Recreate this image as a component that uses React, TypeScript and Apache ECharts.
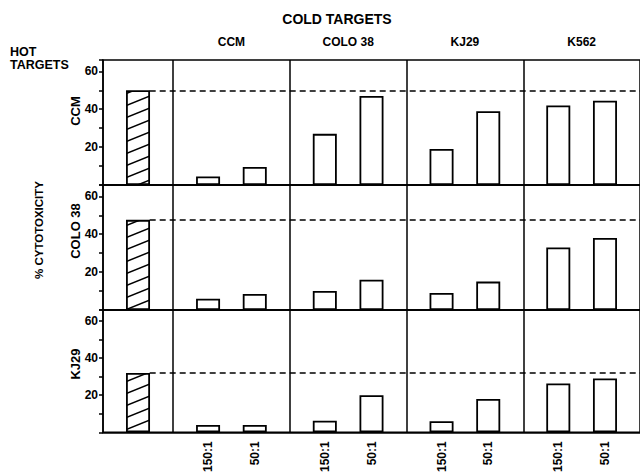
import React, { useEffect, useRef } from 'react';
import * as echarts from 'echarts';

// ---- data ----
const hotTargets = ['CCM', 'COLO 38', 'KJ29'];
const coldTargets = ['CCM', 'COLO 38', 'KJ29', 'K562'];
const ratios = ['150:1', '50:1'];
const hotValues = [50, 47.6, 32];
const ccmAt150 = [4.5, 27, 19, 42];
const ccmAt50 = [9.5, 47, 39, 44.5];
const colo38At150 = [6, 10, 9, 33];
const colo38At50 = [8.5, 16, 15, 38];
const kj29At150 = [4, 6.2, 6, 26.4];
const kj29At50 = [4, 20, 18, 29];
const yTickLabels = [20, 40, 60];

const rows150 = [ccmAt150, colo38At150, kj29At150];
const rows50 = [ccmAt50, colo38At50, kj29At50];

// ---- layout (units along x: hot column = 3 units, each cold column = 5 units) ----
const HOT_SPAN = 3;
const COL_SPAN = 5;
const X_MAX = HOT_SPAN + COL_SPAN * coldTargets.length; // 23
const rowTops = [60, 185, 310];
const rowHeights = [125, 125, 127];
const FONT = '"Liberation Sans", Arial, Helvetica, sans-serif';

const colStart = (c: number) => HOT_SPAN + COL_SPAN * c;
const barX = (c: number, r: number) => colStart(c) + 1.5 + 2 * r;

// hatch tile: stripes rising from lower-left to upper-right
function makeHatch(): HTMLCanvasElement {
  const W = 30;
  const H = 12;
  const cv = document.createElement('canvas');
  cv.width = W;
  cv.height = H;
  const ctx = cv.getContext('2d')!;
  ctx.fillStyle = '#fff';
  ctx.fillRect(0, 0, W, H);
  ctx.strokeStyle = '#000';
  ctx.lineWidth = 1.6;
  for (const dx of [-W, 0, W]) {
    for (const dy of [-H, 0, H]) {
      ctx.beginPath();
      ctx.moveTo(dx, H + dy);
      ctx.lineTo(W + dx, dy);
      ctx.stroke();
    }
  }
  return cv;
}

export default function App() {
  const ref = useRef<HTMLDivElement>(null);
  useEffect(() => {
    document.body.style.margin = '0';
    if (!ref.current) return;
    const chart = echarts.init(ref.current, null, { renderer: 'svg' });
    const hatch = makeHatch();

    const grid: any[] = [];
    const xAxis: any[] = [];
    const yAxis: any[] = [];
    const series: any[] = [];

    const bottomLabelValues: number[] = [];
    coldTargets.forEach((_, c) => ratios.forEach((_, r) => bottomLabelValues.push(barX(c, r))));
    const colCenters = coldTargets.map((_, c) => colStart(c) + COL_SPAN / 2);

    hotTargets.forEach((hot, i) => {
      grid.push({
        left: 103,
        top: rowTops[i],
        width: 539,
        height: rowHeights[i],
        show: true,
        borderColor: '#000',
        borderWidth: 1.5,
        backgroundColor: 'transparent',
      });
      xAxis.push({
        type: 'value',
        gridIndex: i,
        min: 0,
        max: X_MAX,
        splitLine: { show: false },
        axisLine: { show: true, lineStyle: { color: '#000', width: 1.5 } },
        axisTick: { show: false },
        axisLabel:
          i === hotTargets.length - 1
            ? {
                customValues: bottomLabelValues,
                rotate: 90,
                margin: 9,
                color: '#000',
                fontFamily: FONT,
                fontWeight: 'bold',
                fontSize: 12,
                formatter: (v: number) => {
                  const k = bottomLabelValues.findIndex((b) => Math.abs(b - v) < 0.01);
                  return k >= 0 ? ratios[k % ratios.length] : '';
                },
              }
            : { show: false },
      });
      yAxis.push({
        type: 'value',
        gridIndex: i,
        min: 0,
        max: 66,
        interval: 10,
        splitLine: { show: false },
        axisLine: { show: true, lineStyle: { color: '#000', width: 1.5 } },
        axisTick: { show: true, length: 4, lineStyle: { color: '#000', width: 1.5 } },
        axisLabel: {
          margin: 5,
          color: '#000',
          fontFamily: FONT,
          fontWeight: 'bold',
          fontSize: 12,
          formatter: (v: number) => (yTickLabels.includes(v) ? String(v) : ''),
        },
      });
    });

    // top axis carrying the cold-target column headers
    xAxis.push({
      type: 'value',
      gridIndex: 0,
      position: 'top',
      min: 0,
      max: X_MAX,
      splitLine: { show: false },
      axisLine: { show: false },
      axisTick: { show: false },
      axisLabel: {
        customValues: colCenters,
        margin: 12,
        color: '#000',
        fontFamily: FONT,
        fontWeight: 'bold',
        fontSize: 12,
        formatter: (v: number) => {
          const k = colCenters.findIndex((b) => Math.abs(b - v) < 0.01);
          return k >= 0 ? coldTargets[k] : '';
        },
      },
    });

    hotTargets.forEach((hot, i) => {
      series.push({
        type: 'bar',
        name: 'hot ' + hot,
        xAxisIndex: i,
        yAxisIndex: i,
        barWidth: 24,
        barGap: '-100%',
        data: [[HOT_SPAN / 2, hotValues[i]]],
        itemStyle: {
          color: { image: hatch, repeat: 'repeat' },
          borderColor: '#000',
          borderWidth: 1.8,
        },
        markLine: {
          silent: true,
          symbol: ['none', 'none'],
          label: { show: false },
          lineStyle: { color: '#000', type: [6, 4], width: 1.5 },
          data: [[{ coord: [HOT_SPAN / 2 + 0.5, hotValues[i]] }, { coord: [X_MAX, hotValues[i]] }]],
        },
      });
      const coldData: number[][] = [];
      coldTargets.forEach((_, c) => {
        coldData.push([barX(c, 0), rows150[i][c]]);
        coldData.push([barX(c, 1), rows50[i][c]]);
      });
      series.push({
        type: 'bar',
        name: 'cold ' + hot,
        xAxisIndex: i,
        yAxisIndex: i,
        barWidth: 24,
        barGap: '-100%',
        data: coldData,
        itemStyle: { color: '#fff', borderColor: '#000', borderWidth: 1.8 },
        markLine: {
          silent: true,
          symbol: ['none', 'none'],
          label: { show: false },
          lineStyle: { color: '#000', type: 'solid', width: 1.5 },
          data: coldTargets.map((_, c) => ({ xAxis: colStart(c) })),
        },
      });
    });

    const textStyle = (text: string, size: number) => ({
      text,
      font: `bold ${size}px ${FONT}`,
      fill: '#000',
    });

    const graphic: any[] = [
      { type: 'text', x: 337, y: 19, style: { ...textStyle('COLD TARGETS', 14), align: 'center', verticalAlign: 'middle' } },
      { type: 'text', x: 10, y: 45, style: { ...textStyle('HOT', 12.5), align: 'left', verticalAlign: 'top' } },
      { type: 'text', x: 10, y: 58, style: { ...textStyle('TARGETS', 12.5), align: 'left', verticalAlign: 'top' } },
      { type: 'text', x: 39, y: 230, rotation: Math.PI / 2, style: { ...textStyle('% CYTOTOXICITY', 11.5), align: 'center', verticalAlign: 'middle' } },
    ];
    const rowLabelY = [111, 231, 364];
    hotTargets.forEach((hot, i) => {
      graphic.push({
        type: 'text',
        x: 75,
        y: rowLabelY[i],
        rotation: Math.PI / 2,
        style: { ...textStyle(hot, 13), align: 'center', verticalAlign: 'middle' },
      });
    });

    chart.setOption({
      animation: false,
      backgroundColor: '#fff',
      grid,
      xAxis,
      yAxis,
      series,
      graphic,
    });
    return () => chart.dispose();
  }, []);
  return <div ref={ref} style={{ width: 640, height: 475 }} />;
}
